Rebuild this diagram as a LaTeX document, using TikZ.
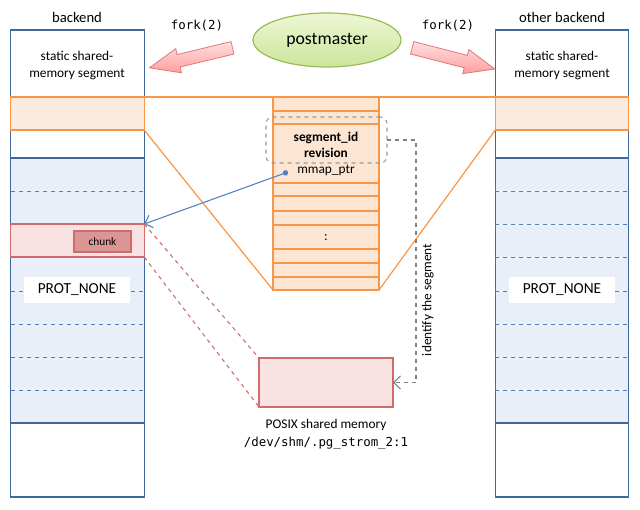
\documentclass[tikz,border=0pt]{standalone}
\usepackage{fontspec}
\setmainfont{Carlito}
\setmonofont{DejaVu Sans Mono}
\usepackage{tikz}
\usetikzlibrary{shapes.geometric, shapes.arrows, arrows.meta, positioning, calc}

\definecolor{boxblue}{HTML}{41689C}
\definecolor{dashblue}{HTML}{4F81BD}
\definecolor{protfill}{HTML}{E9EFF8}
\definecolor{shmorange}{HTML}{F79646}
\definecolor{bandfill}{HTML}{FCEBDC}
\definecolor{colfill}{HTML}{FDE5D3}
\definecolor{chunkred}{HTML}{D16B6B}
\definecolor{chunkfill}{HTML}{F9E2E2}
\definecolor{chunkdark}{HTML}{DA9694}
\definecolor{pmgreen}{HTML}{9BBB59}
\definecolor{pmtop}{HTML}{EEF7D3}
\definecolor{pmbottom}{HTML}{CBE59C}
\definecolor{forkred}{HTML}{E07878}

\begin{document}
\begin{tikzpicture}[
    x=0.75pt, y=-0.75pt,
    line width=0.9pt,
    every node/.style={inner sep=1pt, outer sep=0pt},
    backend/.style={draw=boxblue, fill=white, minimum width=100pt, minimum height=350.25pt},
    band/.style={draw=shmorange, fill=bandfill, minimum width=100pt, minimum height=24.75pt},
    protarea/.style={draw=boxblue, fill=protfill, minimum width=100pt, minimum height=198.75pt},
    protlbl/.style={fill=white, minimum width=79.5pt, minimum height=19.5pt,
                    font=\fontsize{11.5}{13}\selectfont},
    pages/.style={draw=dashblue, dashed, line width=0.6pt},
    chunkband/.style={draw=chunkred, fill=chunkfill, minimum width=100pt, minimum height=24.75pt},
    chunkbox/.style={draw=chunkred, fill=chunkdark, minimum width=42.75pt, minimum height=15.75pt,
                     font=\fontsize{8.5}{10}\selectfont},
    segcol/.style={draw=shmorange, fill=colfill, minimum width=79.5pt, minimum height=144.75pt},
    shmline/.style={draw=shmorange, line width=0.9pt},
    segbox/.style={draw=gray!80, dashed, rounded corners=5pt, line width=0.8pt,
                   minimum width=90.75pt, minimum height=34.5pt},
    posix/.style={draw=chunkred, fill=chunkfill, minimum width=100.5pt, minimum height=36.75pt},
    master/.style={ellipse, draw=pmgreen, top color=pmtop, bottom color=pmbottom,
                   minimum width=111pt, minimum height=40.5pt, font=\fontsize{13.3}{15}\selectfont},
    forkarrow/.style={single arrow, draw=forkred, line width=0.6pt, top color=red!12,
                      bottom color=red!38, minimum height=64pt, inner sep=4.5pt,
                      single arrow head extend=4.5pt, single arrow tip angle=45},
    title/.style={font=\fontsize{11}{13}\selectfont},
    txt/.style={font=\fontsize{10}{12.75}\selectfont, align=center},
    mono/.style={font=\ttfamily\fontsize{9.3}{11}\selectfont},
    ptrarrow/.style={draw=dashblue, line width=0.8pt, {Circle[length=4pt]}-{Straight Barb[length=5pt]}},
    chunklink/.style={draw=chunkred, dashed, line width=0.8pt},
    idarrow/.style={draw=gray, dashed, line width=0.8pt, -{Straight Barb[length=5pt]}}
]
\useasboundingbox (0,0) rectangle (640,510);

% ================= backends =================
\node[backend] (bk) at (77.5,263.5) {};
\node[backend] (ob) at (562,263.5) {};
\node[protarea] (bkprot) at (77.5,290.5) {};
\node[protarea] (obprot) at (562,290.5) {};
\node[band] (bkband) at (77.5,113.5) {};
\node[band] (obband) at (562,113.5) {};

\node[title] (bktitle) at (77,17) {backend};
\node[title] (obtitle) at (562,17) {other backend};
\node[txt] (bkstatic) at (77,66) {static shared-\\memory segment};
\node[txt] (obstatic) at (562,66) {static shared-\\memory segment};

% pages of the mapped area
\draw[pages] (11,191) -- (144,191);
\draw[pages] (11,291) -- (144,291);
\draw[pages] (11,324) -- (144,324);
\draw[pages] (11,357) -- (144,357);
\draw[pages] (11,390) -- (144,390);

\draw[pages] (495,191) -- (629,191);
\draw[pages] (495,224) -- (629,224);
\draw[pages] (495,257) -- (629,257);
\draw[pages] (495,291) -- (629,291);
\draw[pages] (495,324) -- (629,324);
\draw[pages] (495,357) -- (629,357);
\draw[pages] (495,390) -- (629,390);

\node[chunkband] (chunkband) at (77.5,240.5) {};
\node[chunkbox] (chunk) at (102.5,241.5) {chunk};
\node[protlbl] (bkprotlbl) at (77,290) {PROT\_NONE};
\node[protlbl] (obprotlbl) at (562,290) {PROT\_NONE};

% ================= static segment (middle) =================
\draw[shmline] (bkband.north east) -- (obband.north west);
\node[segcol] (segcol) at (326,193.5) {};
\draw[shmline] (bkband.south east) -- (segcol.south west);
\draw[shmline] (obband.south west) -- (segcol.south east);

\draw[shmline] (273,111) -- (379,111);
\draw[shmline] (273,124) -- (379,124);
\draw[shmline] (273,183) -- (379,183);
\draw[shmline] (273,196) -- (379,196);
\draw[shmline] (273,211) -- (379,211);
\draw[shmline] (273,225) -- (379,225);
\draw[shmline] (273,249) -- (379,249);
\draw[shmline] (273,263) -- (379,263);
\draw[shmline] (273,277) -- (379,277);

\node[segbox] (segbox) at (326.5,140) {};
\node[txt, font=\bfseries\fontsize{10}{12}\selectfont] (segid) at (326,145) {segment\_id\\revision};
\node[txt] (mmap) at (326,170) {mmap\_ptr};
\node[txt] (dots) at (326,238) {:};
\coordinate (mmapdot) at (288,172);

% ================= POSIX shared memory =================
\node[posix] (posix) at (326,382.5) {};
\node[txt, below=8pt of posix, font=\fontsize{10}{13.5}\selectfont] (posixcap)
     {POSIX shared memory\\\texttt{\fontsize{9.3}{11}\selectfont /dev/shm/.pg\_strom\_2:1}};

% ================= postmaster =================
\node[master] (pm) at (327,40) {postmaster};
\node[forkarrow, rotate=193.5] (forkl) at (198.5,56) {};
\node[forkarrow, rotate=-14.4] (forkr) at (446,56.5) {};
\node[mono] (forkltxt) at (197,26) {fork(2)};
\node[mono] (forkrtxt) at (448,26) {fork(2)};

% ================= connectors =================
\draw[chunklink] (chunkband.north east) -- (posix.north west);
\draw[chunklink] (chunkband.south east) -- (posix.south west);
\draw[ptrarrow] (mmapdot) -- (chunkband.north east);

\coordinate (idturn) at (416,260);
\draw[idarrow] (segbox.east) -| (idturn) |- (posix.east);
\node[txt, rotate=90] (idlbl) at (428,300) {identify the segment};

\end{tikzpicture}
\end{document}
